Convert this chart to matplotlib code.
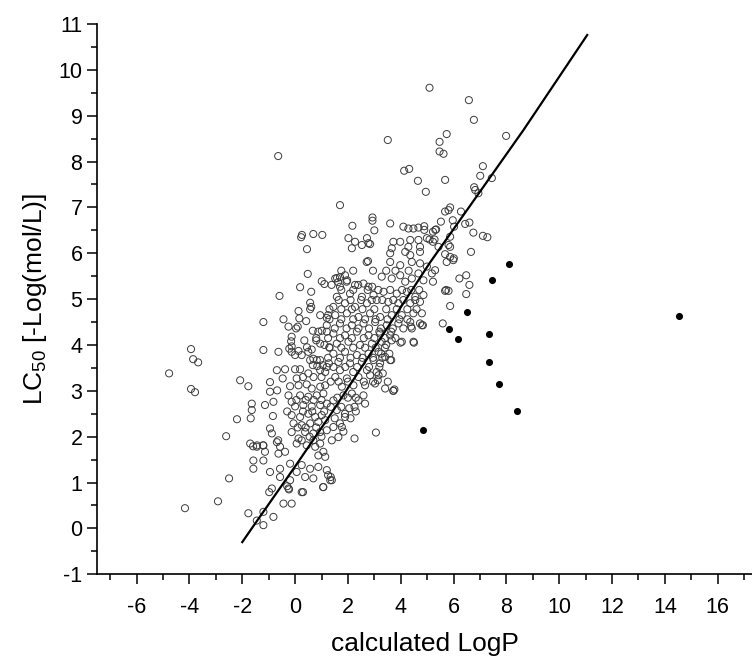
import matplotlib
matplotlib.use("Agg")
import matplotlib.pyplot as plt

plt.rcParams["font.family"] = ["Liberation Sans", "DejaVu Sans"]
plt.rcParams["mathtext.fontset"] = "custom"
plt.rcParams["mathtext.rm"] = "Liberation Sans"
plt.rcParams["axes.unicode_minus"] = False

# -----------------------------
# Data
# -----------------------------
# far left tail
left_x = [-4.77, -3.94, -3.86, -3.67, -3.94, -3.79, -4.17, -2.92, -2.61, -2.50, -2.20]
left_y = [3.38, 3.91, 3.69, 3.62, 3.04, 2.97, 0.44, 0.59, 2.01, 1.09, 2.38]

# upper part of the cloud (above ~5.9)
upper_x = [-0.64, 0.23, 0.26, 0.69, 1.03, 0.45, 1.70, 2.17,
           3.51, 4.13, 4.32, 4.65, 4.95, 2.93, 2.93, 3.00, 3.60, 4.10, 4.29, 4.48, 4.67, 4.89, 4.89,
           2.02, 2.27, 2.15, 2.53, 2.72, 2.78, 2.84, 3.72, 3.98, 3.66, 4.36, 4.29, 4.67, 4.73, 4.99,
           3.60, 4.17, 4.36, 4.73, 2.76,
           5.09, 6.58, 6.77, 5.74, 5.47, 5.47, 5.62, 7.99, 7.11, 7.01, 7.45, 5.68, 6.78, 6.82, 6.94,
           5.87, 5.81, 5.68, 6.28, 5.52, 5.97, 5.34, 5.22, 6.02, 6.44, 6.60, 6.75, 7.11, 7.28,
           5.87, 5.81, 5.87, 5.43, 5.22, 5.68, 5.87, 6.66, 5.31, 5.09, 5.28]
upper_y = [8.12, 6.35, 6.40, 6.42, 6.40, 6.09, 7.05, 6.60,
           8.47, 7.80, 7.84, 7.58, 7.34, 6.78, 6.71, 6.50, 6.65, 6.58, 6.54, 6.54, 6.56, 6.59, 6.51,
           6.33, 6.25, 6.11, 6.18, 6.33, 6.22, 6.20, 6.25, 6.25, 6.11, 6.29, 6.14, 6.29, 6.14, 6.33,
           6.00, 6.03, 5.96, 6.03, 5.83,
           9.61, 9.34, 8.91, 8.60, 8.43, 8.22, 8.17, 8.56, 7.90, 7.69, 7.64, 7.60, 7.44, 7.38, 7.31,
           7.00, 6.94, 6.91, 6.91, 6.69, 6.72, 6.52, 6.47, 6.58, 6.64, 6.67, 6.45, 6.38, 6.35,
           6.36, 6.18, 6.14, 6.14, 6.25, 5.98, 5.92, 6.03, 6.51, 6.30, 6.30]

# middle of the cloud (about 3 to 5.9)
mid_x = [0.48, 1.01, 1.11, 0.19, 0.61, -0.59, 0.57, 0.61, 0.57, 0.13, -1.20, -0.44, -0.25, 0.04, 0.10,
         0.16, 0.42, 0.67, 0.88, 1.01, 1.20, 1.20, 1.20, -0.13, -0.15, -0.13, -0.22, -0.13, 0.13, 0.25,
         0.00, -1.20, -0.63, 0.50, 0.63, 0.95, 1.11, 0.57, 0.69, 0.82, 0.95, 0.67, 0.84, 1.05, 1.20,
         0.95, 1.14, -0.69, -0.38, 0.00, 0.19, 0.50, -2.08, -1.77, -0.95, -0.47, -0.19, 0.06, 0.13,
         0.44, 0.63, 0.95, 1.14,
         2.71, 3.60, 3.98, 4.42, 4.73, 4.99, 1.52, 1.89, 1.95, 1.38, 1.70, 2.27, 2.59, 2.78, 3.28,
         3.66, 3.98, 4.17, 4.42, 4.67, 4.86, 1.58, 2.08, 2.53, 2.97, 3.35, 3.85, 4.23, 4.55, 4.86,
         1.45, 1.89, 2.27, 2.72, 3.09, 3.53, 3.91, 4.36, 4.73, 1.52, 1.96, 2.40, 2.84, 3.22, 3.66,
         4.04, 4.48, 4.80, 1.70, 2.15, 2.59, 3.03, 3.47, 3.91, 4.36, 4.73, 4.42, 4.80, 4.04, 4.48,
         1.45, 1.89, 2.34, 2.78, 3.22, 3.60, 1.58, 2.02, 2.46, 2.91, 3.28, 3.66, 1.45, 1.89, 2.34,
         2.78, 3.16, 3.41, 1.64, 2.08, 2.53, 2.97, 3.22, 1.70, 2.20, 2.72, 3.09, 3.60, 1.52, 1.96,
         2.40, 2.84, 3.16, 1.77, 2.21, 2.65, 3.03, 3.41,
         1.59, 1.70, 1.97, 2.39, 2.92, 1.63,
         3.19, 3.64, 3.45, 3.26, 3.57, 3.64, 3.19, 3.32, 3.13, 3.51, 3.76, 3.99, 4.50, 3.72,
         -0.95, -0.68, 1.30, 1.28, 0.80]
mid_y = [5.55, 5.39, 5.33, 5.26, 5.16, 5.07, 4.92, 4.83, 4.78, 4.74, 4.50, 4.56, 4.40, 4.36, 4.40,
         4.58, 4.52, 4.31, 4.29, 4.31, 4.59, 4.43, 4.29, 4.18, 4.08, 3.97, 3.92, 3.85, 3.87, 3.78,
         3.78, 3.89, 3.85, 3.85, 3.90, 4.03, 4.00, 3.67, 3.70, 3.67, 3.67, 3.56, 3.54, 3.56, 3.52,
         3.45, 3.41, 3.45, 3.47, 3.47, 3.47, 3.38, 3.23, 3.10, 3.19, 3.27, 3.10, 3.27, 3.12,
         3.14, 3.05, 3.09, 3.12,
         5.81, 5.81, 5.74, 5.81, 5.78, 5.71, 5.45, 5.52, 5.38, 5.31, 5.27, 5.31, 5.34, 5.27, 5.49,
         5.45, 5.52, 5.38, 5.45, 5.56, 5.41, 5.05, 5.12, 5.05, 5.09, 5.16, 5.12, 5.16, 5.05, 5.09,
         4.83, 4.91, 4.83, 4.91, 4.98, 4.94, 4.91, 4.91, 4.94, 4.65, 4.69, 4.61, 4.69, 4.61, 4.65,
         4.65, 4.69, 4.69, 4.47, 4.43, 4.47, 4.50, 4.43, 4.47, 4.50, 4.47, 4.36, 4.43, 4.07, 4.07,
         4.25, 4.21, 4.29, 4.21, 4.25, 4.21, 4.03, 4.07, 4.00, 4.03, 4.07, 4.10, 3.81, 3.85, 3.78,
         3.81, 3.85, 3.74, 3.63, 3.60, 3.63, 3.67, 3.60, 3.45, 3.41, 3.45, 3.41, 3.67, 3.30, 3.27,
         3.30, 3.34, 3.34, 3.09, 3.12, 3.12, 3.16, 3.05,
         5.46, 5.48, 5.41, 5.31, 5.27, 5.37,
         4.29, 4.29, 4.00, 3.81, 3.81, 3.67, 3.52, 3.38, 3.23, 3.20, 3.03, 4.05, 4.05, 3.00,
         2.98, 3.01, 3.95, 3.60, 4.15]

# densest part of the core, where circles overlap
core_x = [1.75, 2.20, 2.95, 3.45, 3.80, 4.30,
          1.75, 2.20, 2.75, 3.15, 3.60, 4.05, 4.40, 4.70,
          1.65, 2.10, 2.50, 2.90, 3.30, 3.72, 4.10, 4.55,
          1.30, 1.75, 2.15, 2.55, 3.00, 3.45, 3.85, 4.25, 4.60,
          1.30, 1.75, 2.20, 2.65, 3.05, 3.50, 3.95, 4.25,
          1.50, 1.95, 2.40, 2.80, 3.25, 3.70, 4.10,
          1.25, 1.70, 2.15, 2.60, 3.00, 3.40, 3.80,
          1.30, 1.75, 2.20, 2.65, 3.05, 3.40,
          1.25, 1.70, 2.10, 2.55, 2.95, 3.30,
          1.45, 1.90, 2.35, 2.80,
          1.35, 1.65, 2.00, 2.60, 2.95,
          1.60, 2.00, 2.30, 1.35, 1.75, 2.25, 1.50, 2.10,
          0.35, 0.80, 0.30, 0.70, 1.00, 0.05, 0.40, 0.70, 1.00, -0.30, 0.30, 0.65, 1.10,
          0.10, 0.40, 0.80, 0.55, 1.00, 0.45, 0.95, 1.25]
core_y = [5.62, 5.62, 5.62, 5.62, 5.62, 5.62,
          5.20, 5.20, 5.20, 5.20, 5.20, 5.20, 5.20, 5.20,
          4.98, 4.98, 4.98, 4.98, 4.98, 4.98, 4.98, 4.98,
          4.78, 4.78, 4.78, 4.78, 4.78, 4.78, 4.78, 4.78, 4.78,
          4.56, 4.56, 4.56, 4.56, 4.56, 4.56, 4.56, 4.56,
          4.36, 4.36, 4.36, 4.36, 4.36, 4.36, 4.36,
          4.15, 4.15, 4.15, 4.15, 4.15, 4.15, 4.15,
          3.94, 3.94, 3.94, 3.94, 3.94, 3.94,
          3.72, 3.72, 3.72, 3.72, 3.72, 3.72,
          3.52, 3.52, 3.52, 3.52,
          3.20, 3.20, 3.20, 3.20, 3.20,
          2.85, 2.85, 2.85, 2.65, 2.65, 2.65, 2.40, 2.40,
          4.10, 4.10, 3.30, 3.30, 3.30, 2.80, 2.80, 2.80, 2.80, 2.55, 2.55, 2.55, 2.55,
          2.20, 2.20, 2.20, 2.00, 2.00, 3.95, 4.65, 4.65]

# lower part of the cloud (below 3)
low_x = [-0.25, -0.13, 0.19, 0.50, 0.82, 1.07, 0.00, 0.31, 0.63, 0.95, 1.20, -1.64, -1.64, -1.14,
         -0.82, -1.68, -0.84, -0.13, 0.19, 0.50, 0.76, 1.01, -0.06, 0.25, 0.57, 0.88, 1.14, -0.95,
         -0.88, -0.13, 0.13, 0.38, 0.69, 0.95, 1.20, -1.70, -1.45, -1.20, -1.14, -0.69, -0.57, -0.63,
         -0.38, 0.06, 0.25, 0.44, 0.69, 0.76, 0.95, 1.07, 0.88, 1.14, -1.58, -1.58, -1.20, -0.95,
         -0.57, -0.57, -0.88, -0.19, 0.25, 0.57, 0.88, 1.20, 0.06, 0.38, 0.69, -0.19, -0.25, 0.25,
         1.07, -0.44, -0.13, -1.77, -1.20, -0.82, -1.45, -1.20, -0.98, 0.30, -1.59, -1.44, -1.21,
         -0.64, -0.30, -0.23, 1.06, 1.25, 1.33,
         3.72, 3.06, 2.25, 1.35, 1.39, 1.45, 1.83, 2.15, 2.40, 2.59, 2.65, 1.58, 1.89, 1.70, 1.45,
         1.83, 1.64, 1.39, 1.89, 1.77, 2.05, 2.30]
low_y = [2.90, 2.76, 2.90, 2.87, 2.90, 2.94, 2.66, 2.69, 2.66, 2.69, 2.72, 2.72, 2.58, 2.69,
         2.76, 2.40, 2.45, 2.47, 2.43, 2.50, 2.43, 2.47, 2.29, 2.25, 2.29, 2.32, 2.36, 2.18,
         2.07, 2.10, 1.96, 2.10, 2.07, 2.10, 2.14, 1.85, 1.78, 1.81, 1.67, 1.88, 1.78, 1.63,
         1.67, 1.85, 1.92, 1.81, 1.92, 1.78, 1.85, 1.67, 1.59, 1.56, 1.48, 1.30, 1.48, 1.23,
         1.30, 1.12, 0.87, 1.41, 1.38, 1.30, 1.34, 1.27, 1.23, 1.12, 1.09, 1.05, 0.87, 0.79,
         0.90, 0.54, 0.54, 0.33, 0.36, 0.25, 0.17, 0.07, 0.79, 0.79, 1.79, 1.81, 1.81,
         1.92, 0.92, 0.85, 0.90, 1.16, 1.05,
         3.00, 2.09, 1.96, 1.12, 1.05, 2.79, 2.90, 2.94, 2.79, 2.90, 2.72, 2.58, 2.50, 2.29, 2.21,
         2.11, 1.99, 1.92, 2.43, 2.21, 2.62, 2.55]

# right side, below the upper group
right_x = [6.22, 6.48, 6.60, 6.48, 5.87, 5.72, 5.59, 5.74, 5.99, 5.30, 5.18, 5.22, 5.68, 5.81,
           4.84, 4.39, 6.01]
right_y = [5.45, 5.52, 5.31, 5.11, 4.85, 5.20, 4.47, 5.81, 5.85, 5.63, 5.56, 5.38, 5.18, 5.18,
           4.43, 4.40, 5.89]

# filled points (outliers)
outlier_x = [8.10, 7.46, 6.50, 14.55, 5.83, 6.17, 7.35, 7.35, 7.72, 8.40, 4.85]
outlier_y = [5.76, 5.41, 4.72, 4.63, 4.34, 4.13, 4.24, 3.62, 3.14, 2.55, 2.14]

# fitted curve
fit_x = [-2.0, -1.64, 0.0, 1.33, 3.07, 5.11, 8.65, 11.06]
fit_y = [-0.30, 0.00, 1.35, 2.47, 4.00, 5.80, 8.69, 10.76]

# -----------------------------
# Plot
# -----------------------------
fig = plt.figure(figsize=(7.52, 6.60), dpi=100)
ax = fig.add_axes([0.129, 0.130, 0.871, 0.8336])

open_style = dict(marker="o", s=26, facecolors="none", edgecolors="#3c3c3c", linewidths=0.7)
groups = [(left_x, left_y), (upper_x, upper_y), (mid_x, mid_y), (core_x, core_y),
          (low_x, low_y), (right_x, right_y)]
for gx, gy in groups:
    ax.scatter(gx, gy, **open_style)

ax.scatter(outlier_x, outlier_y, marker="o", s=26, color="black", linewidths=0)
ax.plot(fit_x, fit_y, color="black", lw=1.6)

ax.set_xlim(-7.5, 17.3)
ax.set_ylim(-1, 11)
ax.set_xticks(range(-6, 17, 2))
ax.set_xticks(range(-7, 18, 1), minor=True)
ax.set_yticks(range(-1, 12, 1))
ax.set_yticks([v + 0.5 for v in range(-1, 11)], minor=True)

for s in ["top", "right"]:
    ax.spines[s].set_visible(False)
for s in ["left", "bottom"]:
    ax.spines[s].set_linewidth(1.2)

ax.tick_params(which="major", direction="out", length=7.5, width=1.1, labelsize=15.5)
ax.tick_params(which="minor", direction="out", length=4, width=1.1)
ax.tick_params(axis="x", which="major", pad=9)
ax.tick_params(axis="y", which="major", pad=3)

ax.set_xlabel("calculated LogP", fontsize=19, labelpad=10)
ax.set_ylabel(r"LC$_{50}$ [-Log(mol/L)]", fontsize=19, labelpad=7)

fig.savefig("out.png", dpi=100)
